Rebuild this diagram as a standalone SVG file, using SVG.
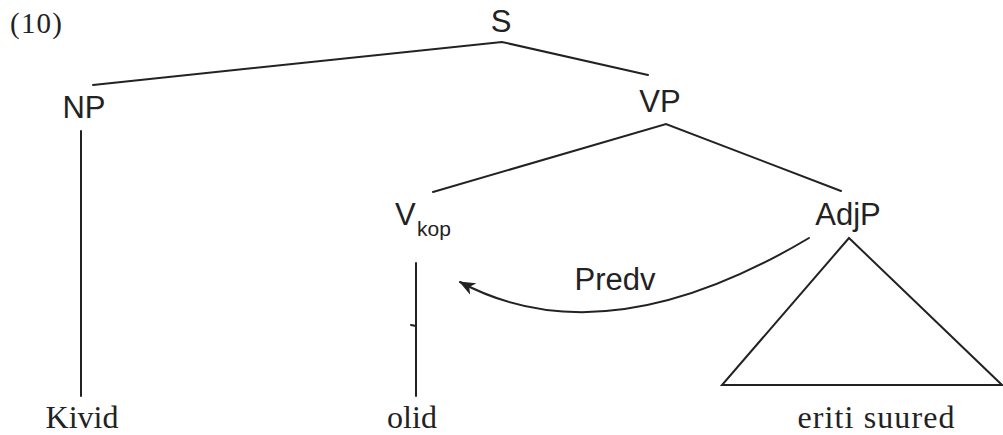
<svg xmlns="http://www.w3.org/2000/svg" width="1003" height="435" viewBox="0 0 1003 435">
<style>
.lab{font-family:"Liberation Sans",Arial,sans-serif;font-size:31px;fill:#222;text-anchor:middle}
.sub{font-family:"Liberation Sans",Arial,sans-serif;font-size:21px;fill:#222}
.big{font-family:"Liberation Sans",Arial,sans-serif;font-size:31px;fill:#222}
.word{font-family:"Liberation Serif","Times New Roman",serif;font-size:32px;fill:#222;text-anchor:middle}
.num{font-family:"Liberation Serif","Times New Roman",serif;font-size:29px;fill:#222}
.ln{stroke:#222;stroke-width:2;fill:none;stroke-linecap:round}
</style>
<defs>
<marker id="ah" viewBox="0 0 16 13" refX="15" refY="6.5" markerWidth="16" markerHeight="13" markerUnits="userSpaceOnUse" orient="auto">
<path d="M0,0 L16,6.5 L0,13 L4.5,6.5 Z" fill="#222"/>
</marker>
</defs>
<rect width="1003" height="435" fill="#fff"/>
<text class="num" x="10" y="33" textLength="52">(10)</text>
<g id="S"><text class="lab" x="501" y="32">S</text></g>
<g id="NP"><text class="lab" x="84" y="118">NP</text></g>
<g id="VP"><text class="lab" x="660" y="112">VP</text></g>
<g id="Vkop"><text x="395" y="225" class="big">V</text><text x="417" y="236" class="sub">kop</text></g>
<g id="AdjP"><text class="lab" x="848" y="225">AdjP</text></g>
<g id="Kivid"><text class="word" x="82" y="428">Kivid</text></g>
<g id="olid"><text class="word" x="412" y="428">olid</text></g>
<g id="eriti"><text class="word" x="876" y="428" textLength="157">eriti suured</text></g>
<g id="connectors">
<polyline class="ln" points="93,85 502,42 648,75"/>
<polyline class="ln" points="433,192 666,124 841,191"/>
<line class="ln" x1="81" y1="131" x2="81" y2="396"/>
<line class="ln" x1="416" y1="263" x2="416" y2="396"/>
<line class="ln" x1="411" y1="325" x2="416" y2="326"/>
<polygon class="ln" points="849,238 722,385 1002,385" style="stroke-linejoin:miter"/>
<path class="ln" d="M809,238 Q605,359.5 460,282" marker-end="url(#ah)"/>
<text class="lab" x="615" y="290">Predv</text>
</g>
</svg>
